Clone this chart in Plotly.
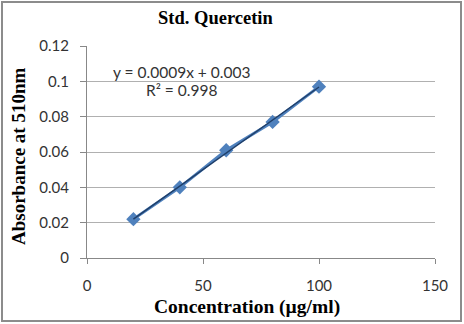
import numpy as np
import plotly.graph_objects as go

conc = [20, 40, 60, 80, 100]
absorb = [0.022, 0.040, 0.061, 0.077, 0.097]
x_ticks = [0, 50, 100, 150]
y_ticks = [0, 0.02, 0.04, 0.06, 0.08, 0.1, 0.12]
y_tick_text = ["0", "0.02", "0.04", "0.06", "0.08", "0.1", "0.12"]

slope, intercept = np.polyfit(conc, absorb, 1)
trend_x = [conc[0], conc[-1]]
trend_y = [slope * v + intercept for v in trend_x]

W, H = 464, 324
L, R, T, B = 87, 29, 46, 66
pw, ph = W - L - R, H - T - B

def px(xp):
    return (xp - L) / pw

def py(yp):
    return (H - B - yp) / ph

fig = go.Figure()
fig.add_trace(go.Scatter(x=conc, y=absorb, mode="lines+markers",
                         line=dict(color="#4F81BD", width=3),
                         marker=dict(symbol="diamond", size=11, color="#4F81BD"),
                         showlegend=False))
fig.add_trace(go.Scatter(x=trend_x, y=trend_y, mode="lines",
                         line=dict(color="#1F3F6A", width=1.5),
                         showlegend=False))

tick_font = dict(family="Lato, Open Sans, sans-serif", size=15, color="#333")
ann_font = dict(family="Lato, Open Sans, sans-serif", size=15.5, color="#333")


def ann(text, xp, yp, font, angle=0):
    return dict(text=text, xref="paper", yref="paper", x=px(xp), y=py(yp),
                xanchor="center", yanchor="middle", textangle=angle,
                showarrow=False, font=font)


fig.update_layout(
    width=W, height=H,
    margin=dict(l=L, r=R, t=T, b=B),
    paper_bgcolor="white", plot_bgcolor="white",
    xaxis=dict(range=[0, 150], tickvals=x_ticks, ticks="outside", ticklen=5,
               tickcolor="#888", showline=True, linecolor="#888", linewidth=1,
               showgrid=False, zeroline=False, tickfont=tick_font,
               ticklabelstandoff=9, fixedrange=True),
    yaxis=dict(range=[0, 0.12], tickvals=y_ticks, ticktext=y_tick_text,
               ticks="outside", ticklen=6, tickcolor="#888",
               showline=True, linecolor="#888", linewidth=1,
               showgrid=True, gridcolor="#B0B0B0", gridwidth=1,
               zeroline=False, tickfont=tick_font,
               ticklabelstandoff=8, fixedrange=True),
    shapes=[dict(type="rect", xref="paper", yref="paper",
                 x0=px(2), x1=px(461), y0=py(321), y1=py(2),
                 line=dict(color="#8C8C8C", width=2))],
    annotations=[
        ann("<b>Std. Quercetin</b>", 215, 18,
            dict(family="Liberation Serif", size=18.5, color="black")),
        ann("<b>Absorbance at 510nm</b>", 18, 156,
            dict(family="Liberation Serif", size=19, color="black"), -90),
        ann("<b>Concentration (µg/ml)</b>", 247, 307,
            dict(family="Liberation Serif", size=19.5, color="black")),
        ann("y = 0.0009x + 0.003", 181, 72, ann_font),
        ann("R² = 0.998", 181, 90, ann_font),
    ],
)

fig.write_html("out.html")
